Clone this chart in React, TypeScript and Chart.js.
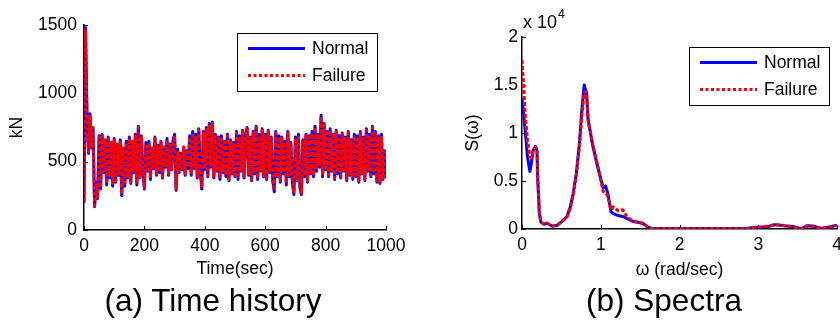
import React, { useEffect, useRef } from "react";
import { Chart, registerables } from "chart.js";

Chart.register(...registerables);

const FONT = '"Liberation Sans", Arial, Helvetica, sans-serif';

// ---------- (a) Time history ----------
const TIME_STEP = 5; // seconds between samples
const timeTicks = [0, 200, 400, 600, 800, 1000];
const forceTicks = [0, 500, 1000, 1500];

const normalForce = [
  200, 1480, 830, 560, 850, 600, 740, 170, 350, 230,
  690, 300, 700, 420, 650, 330, 680, 380, 640, 320,
  670, 350, 620, 400, 660, 250, 590, 320, 650, 380,
  680, 340, 640, 420, 700, 330, 760, 380, 690, 420,
  300, 640, 430, 650, 370, 600, 450, 680, 400, 620,
  420, 650, 380, 600, 460, 670, 400, 630, 440, 660,
  700, 290, 590, 420, 560, 440, 600, 400, 580, 450,
  690, 400, 720, 450, 700, 380, 740, 430, 300, 720,
  440, 750, 390, 780, 460, 790, 380, 700, 430, 680,
  370, 690, 420, 650, 390, 700, 360, 660, 410, 640,
  390, 720, 370, 690, 430, 730, 380, 700, 750, 400,
  680, 360, 720, 410, 760, 370, 700, 430, 740, 390,
  700, 370, 730, 420, 680, 360, 280, 720, 390, 690,
  350, 680, 410, 650, 330, 720, 390, 640, 340, 260,
  680, 360, 700, 310, 260, 660, 390, 700, 350, 690,
  410, 720, 390, 760, 430, 700, 460, 840, 390, 780,
  440, 720, 390, 740, 430, 700, 370, 730, 410, 690,
  380, 710, 430, 680, 360, 720, 400, 660, 370, 700,
  390, 690, 350, 720, 410, 680, 360, 740, 430, 700,
  390, 760, 410, 720, 350, 690, 340, 700, 370, 580,
  380,
];

const failureForce = [
  210, 1470, 840, 570, 830, 610, 750, 180, 340, 240,
  680, 310, 690, 430, 660, 340, 670, 390, 650, 330,
  660, 360, 630, 410, 650, 260, 600, 330, 640, 390,
  670, 350, 650, 430, 690, 340, 750, 390, 680, 430,
  310, 630, 440, 640, 380, 610, 460, 670, 410, 610,
  430, 640, 390, 610, 470, 660, 410, 620, 450, 650,
  690, 300, 580, 430, 550, 450, 610, 410, 570, 460,
  680, 410, 710, 460, 690, 390, 730, 440, 310, 710,
  450, 740, 400, 770, 470, 780, 390, 690, 440, 670,
  380, 680, 430, 640, 400, 690, 370, 650, 420, 630,
  400, 710, 380, 680, 440, 720, 390, 690, 740, 410,
  670, 370, 710, 420, 750, 380, 690, 440, 730, 400,
  690, 380, 720, 430, 670, 370, 290, 710, 400, 680,
  360, 670, 420, 640, 340, 710, 400, 630, 350, 270,
  670, 370, 690, 320, 270, 650, 400, 690, 360, 680,
  420, 710, 400, 750, 440, 690, 470, 830, 400, 770,
  450, 710, 400, 730, 440, 690, 380, 720, 420, 680,
  390, 700, 440, 670, 370, 710, 410, 650, 380, 690,
  400, 680, 360, 710, 420, 670, 370, 730, 440, 690,
  400, 750, 420, 710, 360, 680, 350, 690, 380, 570,
  390,
];

// ---------- (b) Spectra ----------
const omegaTicks = [0, 1, 2, 3, 4];
const spectrumTicks = [0, 0.5, 1, 1.5, 2];
const omega = [
  0, 0.02, 0.04, 0.07, 0.1, 0.12, 0.14, 0.17, 0.19, 0.2,
  0.22, 0.24, 0.28, 0.32, 0.36, 0.39, 0.45, 0.51, 0.57, 0.61,
  0.65, 0.69, 0.73, 0.76, 0.79, 0.82, 0.84, 0.9, 0.96, 1.03,
  1.06, 1.09, 1.13, 1.16, 1.22, 1.28, 1.33, 1.41, 1.53, 1.6,
  1.65, 2.0, 2.5, 2.85, 2.95, 3.05, 3.15, 3.2, 3.28, 3.35,
  3.45, 3.55, 3.62, 3.7, 3.8, 3.9, 4.0,
];
// values in units of 10^4
const normalSpectrum = [
  1.36, 1.2, 1.03, 0.75, 0.6, 0.69, 0.82, 0.86, 0.82, 0.51,
  0.17, 0.07, 0.05, 0.06, 0.04, 0.03, 0.04, 0.08, 0.13, 0.22,
  0.37, 0.58, 0.9, 1.24, 1.5, 1.41, 1.14, 0.86, 0.65, 0.43,
  0.45, 0.37, 0.18, 0.16, 0.14, 0.13, 0.11, 0.08, 0.06, 0.02,
  0.005, 0.005, 0.005, 0.005, 0.015, 0.02, 0.03, 0.045, 0.04, 0.03,
  0.025, 0.0, 0.035, 0.03, 0.005, 0.02, 0.04,
];
const failureSpectrum = [
  1.76, 1.5, 1.2, 0.93, 0.76, 0.74, 0.8, 0.85, 0.83, 0.53,
  0.18, 0.07, 0.05, 0.06, 0.04, 0.03, 0.04, 0.08, 0.12, 0.21,
  0.35, 0.56, 0.87, 1.18, 1.42, 1.43, 1.12, 0.88, 0.67, 0.39,
  0.38, 0.34, 0.2, 0.23, 0.19, 0.2, 0.13, 0.08, 0.06, 0.02,
  0.005, 0.005, 0.005, 0.005, 0.015, 0.02, 0.035, 0.04, 0.045, 0.03,
  0.02, 0.005, 0.03, 0.025, 0.01, 0.02, 0.035,
];

const seriesLabels = ["Normal", "Failure"];
const BLUE = "#0000ff";
const RED = "#ff0000";

// ---------- plugins ----------
const inwardTicks = {
  id: "inwardTicks",
  beforeDatasetsDraw(chart: any) {
    const { ctx, chartArea, scales } = chart;
    ctx.save();
    ctx.strokeStyle = "#000";
    ctx.lineWidth = 1;
    ctx.beginPath();
    scales.x.ticks.forEach((t: any) => {
      const px = Math.round(scales.x.getPixelForValue(t.value)) + 0.5;
      ctx.moveTo(px, chartArea.bottom);
      ctx.lineTo(px, chartArea.bottom - 4);
    });
    scales.y.ticks.forEach((t: any) => {
      const py = Math.round(scales.y.getPixelForValue(t.value)) + 0.5;
      ctx.moveTo(chartArea.left, py);
      ctx.lineTo(chartArea.left + 4, py);
    });
    ctx.stroke();
    ctx.restore();
  },
};

const boxLegend = {
  id: "boxLegend",
  afterDraw(chart: any, _args: any, opts: any) {
    const { ctx, chartArea } = chart;
    const w = 140;
    const h = 58;
    const x = Math.round(chartArea.right - opts.right - w);
    const y = Math.round(chartArea.top + opts.top);
    ctx.save();
    ctx.fillStyle = "#fff";
    ctx.fillRect(x, y, w, h);
    ctx.strokeStyle = "#000";
    ctx.lineWidth = 1;
    ctx.strokeRect(x + 0.5, y + 0.5, w, h);
    chart.data.datasets.forEach((ds: any, i: number) => {
      const ry = y + 15.5 + i * 27;
      ctx.beginPath();
      ctx.setLineDash(ds.borderDash ? [3, 2.5] : []);
      ctx.strokeStyle = ds.borderColor;
      ctx.lineWidth = 3;
      ctx.moveTo(x + 11, ry);
      ctx.lineTo(x + 68, ry);
      ctx.stroke();
      ctx.setLineDash([]);
      ctx.fillStyle = "#000";
      ctx.font = `17.5px ${FONT}`;
      ctx.textBaseline = "middle";
      ctx.textAlign = "left";
      ctx.fillText(ds.label, x + 75, ry + 1);
    });
    ctx.restore();
  },
};

const exponentLabel = {
  id: "exponentLabel",
  afterDraw(chart: any, _args: any, opts: any) {
    if (!opts || !opts.show) return;
    const { ctx, chartArea } = chart;
    ctx.save();
    ctx.fillStyle = "#000";
    ctx.textBaseline = "alphabetic";
    ctx.textAlign = "left";
    ctx.font = `18px ${FONT}`;
    const base = "x 10";
    const x0 = chartArea.left + 1;
    ctx.fillText(base, x0, 28);
    const bw = ctx.measureText(base).width;
    ctx.font = `12.5px ${FONT}`;
    ctx.fillText("4", x0 + bw + 1, 18);
    ctx.restore();
  },
};

const plainLabel = (v: any) => String(Number(v));

function makeScales(cfg: any) {
  const tickFont = { family: FONT, size: 17.5 };
  return {
    x: {
      type: "linear",
      min: cfg.xTicks[0],
      max: cfg.xTicks[cfg.xTicks.length - 1],
      afterBuildTicks: (s: any) => {
        s.ticks = cfg.xTicks.map((v: number) => ({ value: v }));
      },
      afterFit: (s: any) => {
        s.height = cfg.xHeight;
      },
      grid: { display: false, drawTicks: false },
      border: { display: true, color: "#000", width: 1.5 },
      ticks: {
        color: "#000",
        font: tickFont,
        padding: 6,
        maxRotation: 0,
        autoSkip: false,
        callback: plainLabel,
      },
      title: {
        display: true,
        text: cfg.xTitle,
        color: "#000",
        font: { family: FONT, size: 17.5 },
        padding: { top: 0, bottom: cfg.xTitlePad },
      },
    },
    y: {
      type: "linear",
      min: cfg.yTicks[0],
      max: cfg.yTicks[cfg.yTicks.length - 1],
      afterBuildTicks: (s: any) => {
        s.ticks = cfg.yTicks.map((v: number) => ({ value: v }));
      },
      afterFit: (s: any) => {
        s.width = cfg.yWidth;
      },
      grid: { display: false, drawTicks: false },
      border: { display: true, color: "#000", width: 1.5 },
      ticks: {
        color: "#000",
        font: tickFont,
        padding: cfg.yTickPad,
        autoSkip: false,
        callback: plainLabel,
      },
      title: {
        display: true,
        text: cfg.yTitle,
        color: "#000",
        font: { family: FONT, size: 17.5 },
        padding: { top: cfg.yTitlePad, bottom: 0 },
      },
    },
  };
}

function makeDatasets(xs: number[], a: number[], b: number[]) {
  return [
    {
      label: seriesLabels[0],
      data: a.map((v, i) => ({ x: xs[i], y: v })),
      borderColor: BLUE,
      backgroundColor: BLUE,
      borderWidth: 3,
      pointRadius: 0,
      tension: 0,
      borderJoinStyle: "round",
      order: 1,
    },
    {
      label: seriesLabels[1],
      data: b.map((v, i) => ({ x: xs[i], y: v })),
      borderColor: RED,
      backgroundColor: RED,
      borderWidth: 3,
      borderDash: [4, 2],
      pointRadius: 0,
      tension: 0,
      borderJoinStyle: "round",
      order: 0,
    },
  ];
}

function ChartCanvas(props: { width: number; height: number; build: () => any }) {
  const ref = useRef<HTMLCanvasElement | null>(null);
  useEffect(() => {
    if (!ref.current) return;
    const chart = new Chart(ref.current, props.build());
    return () => chart.destroy();
  }, []);
  return (
    <canvas
      ref={ref}
      width={props.width}
      height={props.height}
      style={{ display: "block", width: props.width, height: props.height }}
    />
  );
}

const timeAxis = normalForce.map((_, i) => i * TIME_STEP);

function buildTimeHistory() {
  return {
    type: "line",
    data: { datasets: makeDatasets(timeAxis, normalForce, failureForce) },
    options: {
      animation: false,
      responsive: false,
      events: [],
      layout: { padding: { left: 0, top: 25, right: 34, bottom: 0 } },
      scales: makeScales({
        xTicks: timeTicks,
        yTicks: forceTicks,
        xTitle: "Time(sec)",
        yTitle: "kN",
        xHeight: 55,
        yWidth: 84,
        yTickPad: 7,
        xTitlePad: 5,
        yTitlePad: 7,
      }),
      plugins: {
        legend: { display: false },
        tooltip: { enabled: false },
        boxLegend: { right: 9, top: 8 },
        exponentLabel: { show: false },
      },
    },
    plugins: [inwardTicks, boxLegend, exponentLabel],
  };
}

function buildSpectra() {
  return {
    type: "line",
    data: { datasets: makeDatasets(omega, normalSpectrum, failureSpectrum) },
    options: {
      animation: false,
      responsive: false,
      events: [],
      layout: { padding: { left: 0, top: 37, right: 23, bottom: 0 } },
      scales: makeScales({
        xTicks: omegaTicks,
        yTicks: spectrumTicks,
        xTitle: "\u03c9 (rad/sec)",
        yTitle: "S(\u03c9)",
        xHeight: 56,
        yWidth: 102,
        yTickPad: 4,
        xTitlePad: 4,
        yTitlePad: 43,
      }),
      plugins: {
        legend: { display: false },
        tooltip: { enabled: false },
        boxLegend: { right: 8, top: 10 },
        exponentLabel: { show: true },
      },
    },
    plugins: [inwardTicks, boxLegend, exponentLabel],
  };
}

const captionStyle: React.CSSProperties = {
  position: "absolute",
  top: 285,
  fontFamily: FONT,
  fontSize: 31.5,
  lineHeight: "30px",
  color: "#000",
  whiteSpace: "nowrap",
  transform: "translateX(-50%)",
};

export default function App() {
  return (
    <div
      style={{
        position: "fixed",
        left: 0,
        top: 0,
        width: 840,
        height: 324,
        overflow: "hidden",
        background: "#fff",
      }}
    >
      <div style={{ position: "absolute", left: 0, top: 0 }}>
        <ChartCanvas width={420} height={285} build={buildTimeHistory} />
      </div>
      <div style={{ position: "absolute", left: 420, top: 0 }}>
        <ChartCanvas width={440} height={285} build={buildSpectra} />
      </div>
      <div style={{ ...captionStyle, left: 213 }}>(a) Time history</div>
      <div style={{ ...captionStyle, left: 664 }}>(b) Spectra</div>
    </div>
  );
}
